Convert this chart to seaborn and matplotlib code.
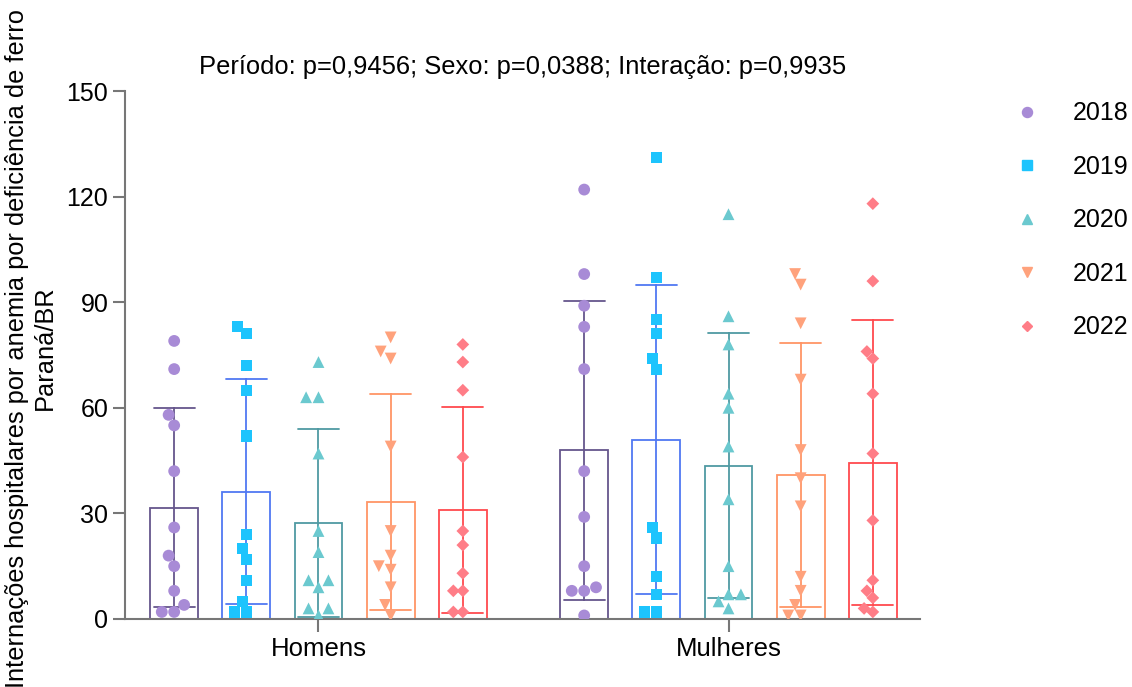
import pandas as pd
import numpy as np
import seaborn as sns
import matplotlib.pyplot as plt
from matplotlib.lines import Line2D

sexos = ["Homens", "Mulheres"]
anos = ["2018", "2019", "2020", "2021", "2022"]

# internacoes mensais (Homens)
homens_2018 = [79, 71, 58, 55, 42, 26, 18, 15, 8, 4, 2, 2]
homens_2019 = [83, 81, 72, 65, 52, 24, 20, 17, 11, 5, 2, 2]
homens_2020 = [73, 63, 63, 47, 25, 19, 11, 11, 9, 3, 3, 1]
homens_2021 = [80, 76, 74, 49, 25, 18, 15, 14, 9, 4, 1]
homens_2022 = [78, 73, 65, 46, 25, 21, 13, 8, 8, 2, 2]

# Mulheres
mulheres_2018 = [122, 98, 89, 83, 71, 42, 29, 15, 9, 8, 8, 1]
mulheres_2019 = [131, 97, 85, 81, 74, 71, 26, 23, 12, 7, 2, 2]
mulheres_2020 = [115, 86, 78, 64, 60, 49, 34, 15, 7, 7, 5, 3]
mulheres_2021 = [98, 95, 84, 68, 48, 40, 32, 12, 8, 4, 1, 1]
mulheres_2022 = [118, 96, 76, 74, 64, 47, 28, 11, 8, 6, 3, 2]

homens = [homens_2018, homens_2019, homens_2020, homens_2021, homens_2022]
mulheres = [mulheres_2018, mulheres_2019, mulheres_2020, mulheres_2021, mulheres_2022]

rows = []
for sexo, series in zip(sexos, [homens, mulheres]):
    for ano, vals in zip(anos, series):
        for v in vals:
            rows.append({"Sexo": sexo, "Ano": ano, "Valor": v})
df = pd.DataFrame(rows)

cores_pontos = ["#a88bd6", "#1dc4fd", "#6bc9cf", "#ffa27c", "#ff7d87"]
cores_barras = ["#66568c", "#5078f2", "#4f9aa2", "#ff9566", "#ff4a4e"]
marcadores = ["o", "s", "^", "v", "D"]
tamanhos = [8.5, 8.0, 8.5, 8.5, 6.5]

sns.set_style("ticks")
plt.rcParams["font.family"] = ["Liberation Sans", "DejaVu Sans"]
plt.rcParams["text.color"] = "black"
plt.rcParams["axes.labelcolor"] = "black"

fig, ax = plt.subplots(figsize=(11.32, 6.87), dpi=100)
fig.subplots_adjust(left=0.1104, right=0.8127, bottom=0.099, top=0.8675)

largura = 0.88          # largura total dos grupos de barras
xlim = (-0.472, 1.467)

# barras (media +- DP), um ano por vez
for ano, bc in zip(anos, cores_barras):
    sub = df[df["Ano"] == ano]
    sns.barplot(data=sub, x="Sexo", y="Valor", hue="Ano", hue_order=anos, order=sexos,
                palette={a: bc for a in anos}, errorbar="sd", fill=False, dodge=True,
                width=largura, gap=0.335, capsize=0.5, linewidth=1.3,
                err_kws={"linewidth": 1.3}, legend=False, ax=ax)
ax.set_xlim(xlim)

# swarmplot usa sempre 0.8 de largura -> eixo gemeo com escala ajustada por sexo
fator = largura / 0.8
for i, sexo in enumerate(sexos):
    axp = ax.twiny()
    for ano, m, pc, ms in zip(anos, marcadores, cores_pontos, tamanhos):
        sub = df[(df["Ano"] == ano) & (df["Sexo"] == sexo)]
        sns.swarmplot(data=sub, x="Sexo", y="Valor", hue="Ano", hue_order=anos,
                      dodge=True, palette={a: pc for a in anos}, marker=m, size=ms,
                      linewidth=0, legend=False, ax=axp)
    axp.set_xlim((xlim[0] - i) / fator, (xlim[1] - i) / fator)
    axp.axis("off")

ax.set_ylim(0, 150)
ax.set_yticks([0, 30, 60, 90, 120, 150])
ax.set_xlabel("")
ax.set_ylabel("Internações hospitalares por anemia por deficiência de ferro\nParaná/BR",
              fontsize=18.3)
ax.yaxis.set_label_coords(-0.086, 0.513)
ax.set_title("Período: p=0,9456; Sexo: p=0,0388; Interação: p=0,9935", fontsize=18.4,
             y=1.0, pad=12)
sns.despine(ax=ax)
for s in ["left", "bottom"]:
    ax.spines[s].set_color("#777777")
    ax.spines[s].set_linewidth(1.5)
ax.tick_params(axis="both", colors="#777777", width=1.5, length=9, labelcolor="black")
ax.tick_params(axis="y", labelsize=18, pad=3)
ax.tick_params(axis="x", labelsize=18.5, pad=4)

handles = [Line2D([], [], linestyle="none", marker=m, markersize=ms * 0.85,
                  color=c) for m, c, ms in zip(marcadores, cores_pontos, tamanhos)]
ax.legend(handles, anos, loc="upper left", bbox_to_anchor=(1.09, 1.023), frameon=False,
          fontsize=18, handlelength=1.0, handletextpad=1.36, labelspacing=1.18)

plt.savefig("out.png", dpi=100)
